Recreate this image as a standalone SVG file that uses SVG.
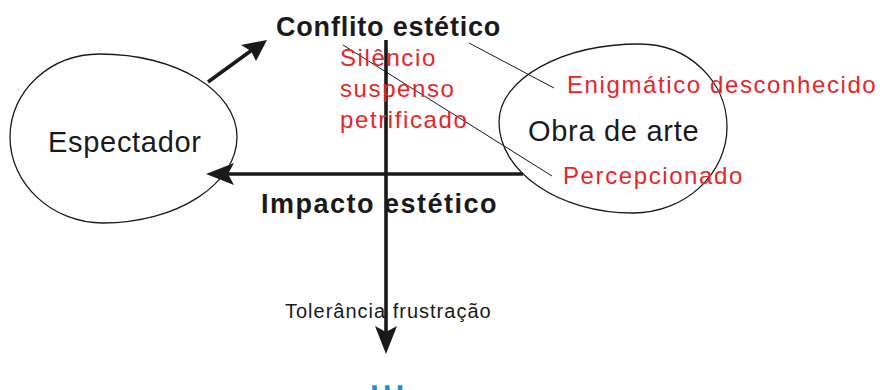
<svg xmlns="http://www.w3.org/2000/svg" width="880" height="390" viewBox="0 0 880 390">
<style>
.shape{fill:none;stroke:#1a1a1a;stroke-width:1.3}
.thick{stroke:#1a1a1a;stroke-width:3.6;fill:none}
.thin{stroke:#1a1a1a;stroke-width:1;fill:none}
.head{fill:#1a1a1a;stroke:none}
.lbl{font-family:"Liberation Sans",Arial,sans-serif;fill:#1a1a1a}
.big{font-size:29px;letter-spacing:0.7px}
.bold{font-size:27px;font-weight:bold}
.red{font-family:"Liberation Sans",Arial,sans-serif;fill:#e3262a;font-size:24px;letter-spacing:1.6px}
</style>
<rect width="880" height="390" fill="#ffffff"/>
<g id="espectador">
<path class="shape" d="M100,54 C176,54 237,91 237,137 C237,184 177,223 103,223 C52,223 10,184 10,137 C10,91 50,54 100,54 Z"/>
<text class="lbl big" x="48" y="152">Espectador</text>
</g>
<g id="obra">
<path class="shape" d="M640,44 C688,44 727,81 727,127 C727,174 685,213 633,213 C559,213 499,172 499,122 C499,79 562,44 640,44 Z"/>
<text class="lbl big" x="528" y="141">Obra de arte</text>
</g>
<g id="connectors">
<line class="thick" x1="386" y1="40" x2="386" y2="332"/>
<polygon class="head" points="386,354 375,326 386,332 397,326"/>
<line class="thick" x1="523" y1="174" x2="228" y2="174"/>
<polygon class="head" points="206,174 234,163 228,174 234,185"/>
<line class="thick" x1="208" y1="82" x2="252" y2="50"/>
<polygon class="head" points="267,40 256,61 251,51 241,45"/>
<line class="thin" x1="343" y1="45" x2="552" y2="176"/>
<line class="thin" x1="469" y1="43" x2="554" y2="88"/>
</g>
<g id="conflito">
<text class="lbl bold" x="276" y="36" letter-spacing="0.8">Conflito estético</text>
</g>
<g id="impacto">
<text class="lbl bold" x="261" y="213" letter-spacing="1.5">Impacto estético</text>
</g>
<g id="silencio">
<text class="red" x="340" y="66">Silêncio</text>
<text class="red" x="340" y="97">suspenso</text>
<text class="red" x="340" y="128">petrificado</text>
</g>
<g id="enigmatico">
<text class="red" x="567" y="93">Enigmático desconhecido</text>
</g>
<g id="percepcionado">
<text class="red" x="563" y="184">Percepcionado</text>
</g>
<g id="tolerancia">
<text class="lbl" x="285" y="318" font-size="20" letter-spacing="1" fill="#222">Tolerância frustração</text>
</g>
<g id="dots">
<text x="370" y="389.5" font-family="Liberation Sans, Arial, sans-serif" font-size="32" font-weight="bold" letter-spacing="3.8" fill="#1a8fe0">...</text>
</g>
</svg>
